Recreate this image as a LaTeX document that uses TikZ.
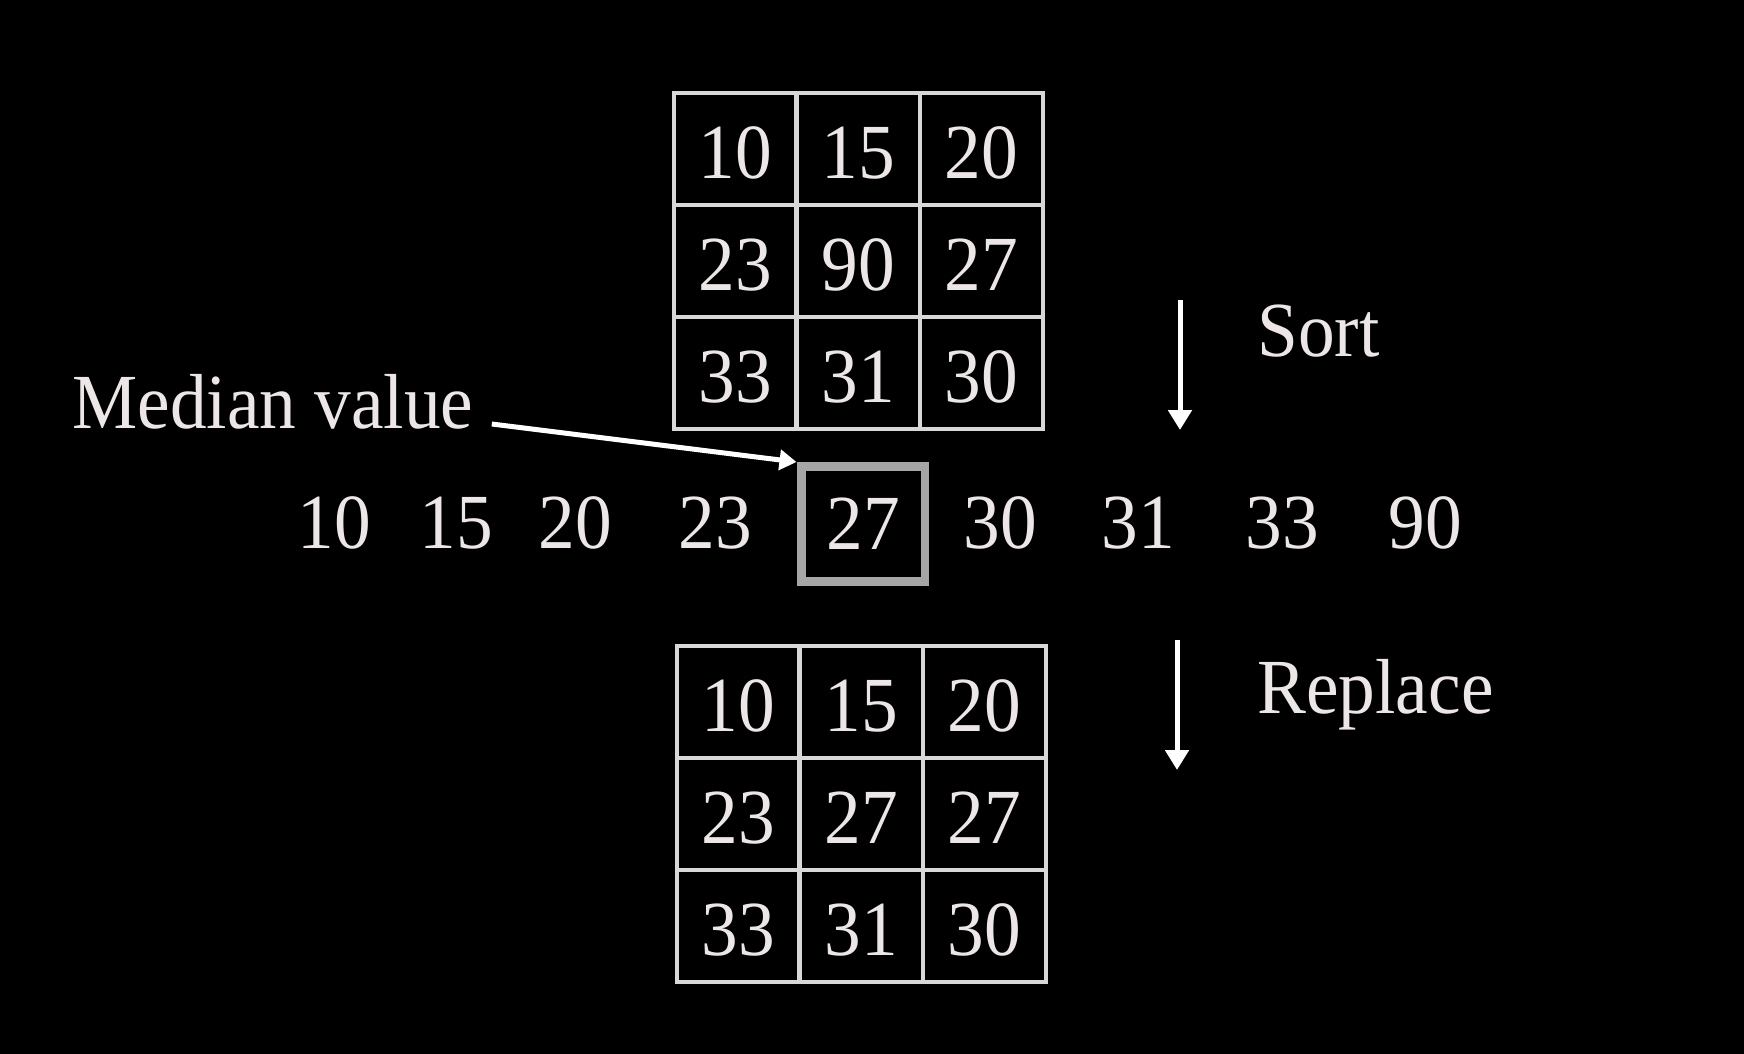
\documentclass[tikz,border=0pt]{standalone}
\usepackage{fontspec}
\setmainfont[FakeStretch=0.94]{Liberation Serif}
\usetikzlibrary{arrows.meta}

\definecolor{chalk}{HTML}{ECE6E6}
\definecolor{gridline}{HTML}{D8D8D8}
\definecolor{boxgray}{HTML}{A6A6A6}

\begin{document}
\begin{tikzpicture}
    [
      x=0.02cm,y=-0.02cm,
      font=\fontsize{44.4pt}{53pt}\selectfont,
      cell/.style={draw=gridline,line width=0.08cm,text=chalk,
        minimum width=2.46cm,minimum height=2.24cm,inner sep=0pt,
        text height=1.19cm,text depth=0pt},
      entry/.style={text=chalk,inner sep=0pt},
      median/.style={draw=boxgray,line width=0.18cm,text=chalk,
        minimum width=2.48cm,minimum height=2.3cm,inner sep=0pt},
      stage/.style={white,line width=0.1cm,-{Triangle[width=0.46cm,length=0.4cm]}},
      pointer/.style={white,line width=0.1cm,-{Triangle[width=0.4cm,length=0.34cm]}}
    ]

    \fill [black] (0,0) rectangle (1744,1054);

    % input window
    \node at (735,149) [cell] (in11) {10};
    \node at (858,149) [cell] (in12) {15};
    \node at (981,149) [cell] (in13) {20};
    \node at (735,261) [cell] (in21) {23};
    \node at (858,261) [cell] (in22) {90};
    \node at (981,261) [cell] (in23) {27};
    \node at (735,373) [cell] (in31) {33};
    \node at (858,373) [cell] (in32) {31};
    \node at (981,373) [cell] (in33) {30};

    % sorted values
    \node at (334,523) [entry] (s1) {10};
    \node at (456,523) [entry] (s2) {15};
    \node at (575,523) [entry] (s3) {20};
    \node at (715,523) [entry] (s4) {23};
    \node at (863,524) [median] (med) {27};
    \node at (1000,523) [entry] (s6) {30};
    \node at (1138,523) [entry] (s7) {31};
    \node at (1282,523) [entry] (s8) {33};
    \node at (1425,523) [entry] (s9) {90};

    % output window
    \node at (738,702) [cell] (out11) {10};
    \node at (861,702) [cell] (out12) {15};
    \node at (984,702) [cell] (out13) {20};
    \node at (738,814) [cell] (out21) {23};
    \node at (861,814) [cell] (out22) {27};
    \node at (984,814) [cell] (out23) {27};
    \node at (738,926) [cell] (out31) {33};
    \node at (861,926) [cell] (out32) {31};
    \node at (984,926) [cell] (out33) {30};

    \node at (72,428) [entry,anchor=base west] (medlabel) {Median value};
    \draw [pointer] ([xshift=0.36cm,yshift=0.08cm]medlabel.base east) -- (med.north west);

    \node at (1257,356) [entry,anchor=base west] (sortlabel) {Sort};
    \node at (1257,713) [entry,anchor=base west] (replacelabel) {Replace};

    \coordinate (sorttop) at (1180,300);
    \coordinate (sortend) at (1180,430);
    \coordinate (reptop) at (1177,640);
    \coordinate (repend) at (1177,770);
    \draw [stage] (sorttop) -- (sortend);
    \draw [stage] (reptop) -- (repend);
  \end{tikzpicture}
\end{document}
